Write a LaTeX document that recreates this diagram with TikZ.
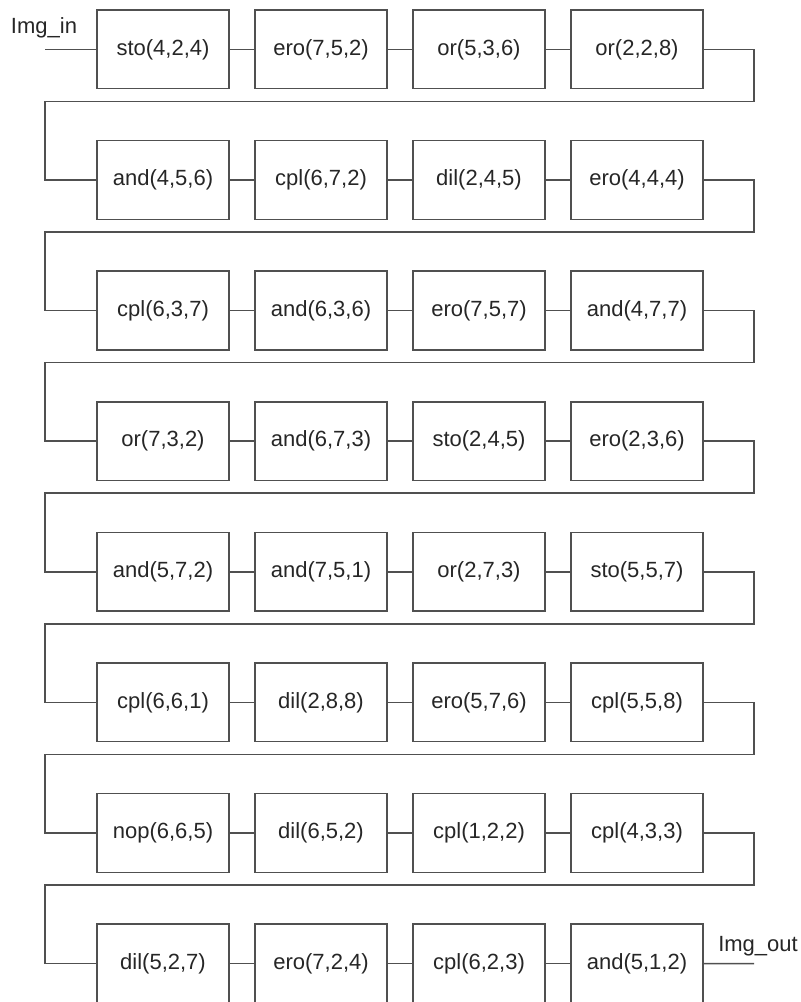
\documentclass[tikz,border=0pt]{standalone}
\usepackage{fontspec}
\setmainfont{Liberation Sans}
\definecolor{linec}{HTML}{505050}
\definecolor{textc}{HTML}{262626}
\begin{document}
\begin{tikzpicture}[x=1pt,y=-1pt,
  opbox/.style={draw=linec,line width=1.5pt,minimum width=132pt,minimum height=78.7pt,inner sep=0pt,text=textc,font=\fontsize{22}{26}\selectfont},
  wire/.style={draw=linec,line width=1.5pt},
  lbl/.style={text=textc,font=\fontsize{22}{26}\selectfont,inner sep=0pt}]
\useasboundingbox (0,0) rectangle (801,1002);
\def\lbls{{"sto(4,2,4)","ero(7,5,2)","or(5,3,6)","or(2,2,8)",
"and(4,5,6)","cpl(6,7,2)","dil(2,4,5)","ero(4,4,4)",
"cpl(6,3,7)","and(6,3,6)","ero(7,5,7)","and(4,7,7)",
"or(7,3,2)","and(6,7,3)","sto(2,4,5)","ero(2,3,6)",
"and(5,7,2)","and(7,5,1)","or(2,7,3)","sto(5,5,7)",
"cpl(6,6,1)","dil(2,8,8)","ero(5,7,6)","cpl(5,5,8)",
"nop(6,6,5)","dil(6,5,2)","cpl(1,2,2)","cpl(4,3,3)",
"dil(5,2,7)","ero(7,2,4)","cpl(6,2,3)","and(5,1,2)"}}
\foreach \r in {0,...,7}{
  \foreach \c in {0,...,3}{
    \pgfmathtruncatemacro{\k}{4*\r+\c}
    \pgfmathsetmacro{\txt}{\lbls[\k]}
    \node[opbox] (b\r\c) at ({163+158*\c},{49.35+130.6*\r}) {\txt};
  }
  \draw[wire] (b\r0.east) -- (b\r1.west);
  \draw[wire] (b\r1.east) -- (b\r2.west);
  \draw[wire] (b\r2.east) -- (b\r3.west);
}
\foreach \r [evaluate=\r as \n using int(\r+1)] in {0,...,6}{
  \coordinate (R\r) at (754,{49.35+130.6*\r});
  \coordinate (L\r) at (45,{49.35+130.6*\r+52});
  \draw[wire] (b\r3.east) -- (R\r) |- (L\r) |- (b\n0.west);
}
\node[lbl] (imgin) at (44,28) {Img\_in};
\coordinate (inS) at (45,49.35);
\draw[wire] (inS) -- (b00.west);
\node[lbl] (imgout) at (758,946) {Img\_out};
\coordinate (outE) at (754,963.55);
\draw[wire] (b73.east) -- (outE);
\end{tikzpicture}
\end{document}
